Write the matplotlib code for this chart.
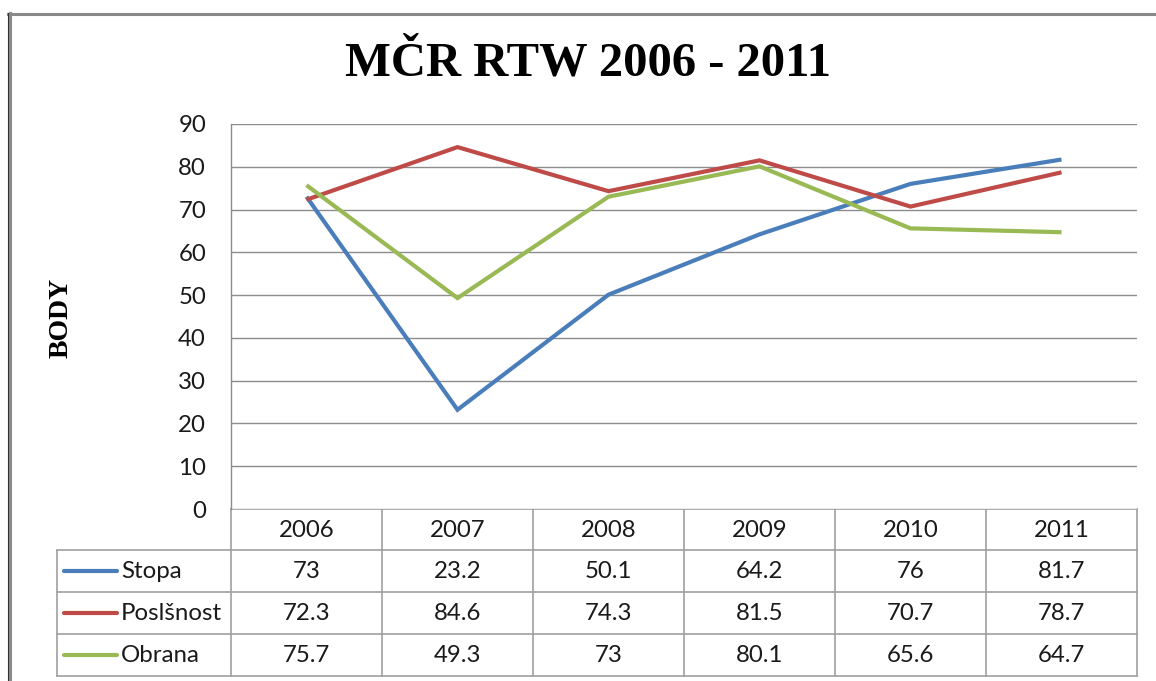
import matplotlib
matplotlib.use("Agg")
import matplotlib.pyplot as plt
from matplotlib.lines import Line2D

# ---- data ----
years = ["2006", "2007", "2008", "2009", "2010", "2011"]
series_names = ["Stopa", "Poslšnost", "Obrana"]
stopa = [73, 23.2, 50.1, 64.2, 76, 81.7]
poslusnost = [72.3, 84.6, 74.3, 81.5, 70.7, 78.7]
obrana = [75.7, 49.3, 73, 80.1, 65.6, 64.7]
series_values = [stopa, poslusnost, obrana]
series_colors = ["#4A7EBB", "#BE4B48", "#98B954"]
y_ticks = [0, 10, 20, 30, 40, 50, 60, 70, 80, 90]
title = "MČR RTW 2006 - 2011"
y_label = "BODY"

W, H = 1156, 681
fig = plt.figure(figsize=(W / 100, H / 100), dpi=100)
fig.patch.set_facecolor("white")

num_font = ["Lato", "DejaVu Sans"]
serif_font = ["Liberation Serif", "DejaVu Serif"]
FS = 17.3
TXT = "#1a1a1a"

# plot area in pixels
L, R, T, B = 231, 1137, 124, 509
ax = fig.add_axes([L / W, 1 - B / H, (R - L) / W, (B - T) / H])
ax.set_xlim(0, len(years))
ax.set_ylim(0, 90)
ax.set_yticks(y_ticks)
ax.set_yticklabels([str(v) for v in y_ticks], fontfamily=num_font, fontsize=FS, color=TXT)
ax.set_xticks([])
ax.tick_params(axis="y", length=0, pad=18)
ax.grid(axis="y", color="#8c8c8c", linewidth=1.0)
ax.set_axisbelow(True)
for s in ["top", "right", "bottom"]:
    ax.spines[s].set_visible(False)
ax.spines["left"].set_color("#8c8c8c")
ax.spines["left"].set_linewidth(1.0)

xs = [i + 0.5 for i in range(len(years))]
for vals, col in zip(series_values, series_colors):
    ax.plot(xs, vals, color=col, linewidth=3.0, solid_joinstyle="miter", solid_capstyle="butt", zorder=3)

# overlay axes in pixel coordinates for frame, table and texts
ov = fig.add_axes([0, 0, 1, 1], zorder=-1)
ov.set_xlim(0, W)
ov.set_ylim(H, 0)
ov.axis("off")

# chart frame
ov.add_line(Line2D([8, W], [14, 14], color="#8a8a8a", linewidth=2.2))
ov.add_line(Line2D([9.5, 9.5], [13, H], color="#8a8a8a", linewidth=2.2))
ov.add_line(Line2D([8.3, 8.3], [13, H], color="#333333", linewidth=0.8))

# title and y label
fig.text(588 / W, 1 - 63 / H, title, ha="center", va="center",
         fontfamily=serif_font, fontweight="bold", fontsize=35)
fig.text(61 / W, 1 - 318 / H, y_label, ha="center", va="center", rotation=90,
         fontfamily=serif_font, fontweight="bold", fontsize=20)

# data table
tab_left = 57
row_edges = [B, 550, 592, 634, 676]
col_w = (R - L) / len(years)
col_edges = [L + i * col_w for i in range(len(years) + 1)]
gcol = "#a0a0a0"
lw = 1.2
for x in col_edges:
    ov.add_line(Line2D([x, x], [B, row_edges[1]], color=gcol, linewidth=lw))
ov.add_line(Line2D([L, R], [B, B], color=gcol, linewidth=lw))
for y in row_edges[1:]:
    ov.add_line(Line2D([tab_left, R], [y, y], color=gcol, linewidth=lw))
for x in [tab_left] + col_edges:
    ov.add_line(Line2D([x, x], [row_edges[1], row_edges[-1]], color=gcol, linewidth=lw))

for i, yr in enumerate(years):
    cx = L + (i + 0.5) * col_w
    ov.text(cx, (row_edges[0] + row_edges[1]) / 2 + 1, yr, ha="center", va="center",
            fontfamily=num_font, fontsize=FS, color=TXT)

for r, (name, vals, col) in enumerate(zip(series_names, series_values, series_colors)):
    cy = (row_edges[r + 1] + row_edges[r + 2]) / 2 + 1
    ov.add_line(Line2D([64, 117], [cy - 1, cy - 1], color=col, linewidth=3.0, solid_capstyle="round"))
    ov.text(121, cy, name, ha="left", va="center", fontfamily=num_font, fontsize=FS, color=TXT)
    for i, v in enumerate(vals):
        cx = L + (i + 0.5) * col_w
        ov.text(cx, cy, f"{v:g}", ha="center", va="center", fontfamily=num_font,
                fontsize=FS, color=TXT)

fig.savefig("out.png", dpi=100, facecolor="white")
